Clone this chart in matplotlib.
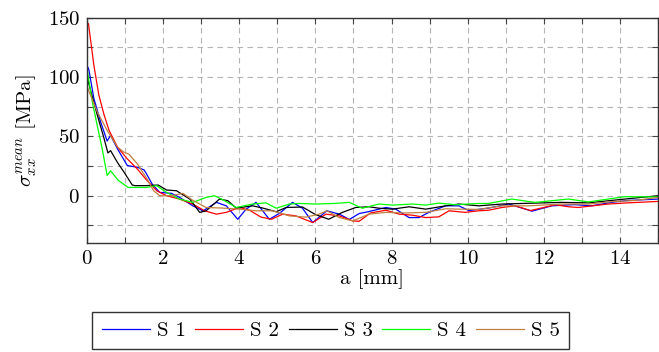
import matplotlib
matplotlib.use("Agg")
import matplotlib.pyplot as plt
from matplotlib.ticker import MultipleLocator

plt.rcParams['font.family'] = 'cmr10'
plt.rcParams['mathtext.fontset'] = 'cm'
plt.rcParams['axes.formatter.use_mathtext'] = True

# mean stress along the crack path, one curve per specimen
a_s1 = [0.0, 0.05, 0.18, 0.36, 0.53, 0.62, 0.8, 1.06, 1.32, 1.5, 1.56, 1.71, 1.91, 2.22, 2.43,
        2.78, 3.05, 3.4, 3.66, 3.96, 4.18, 4.44, 4.79, 5.05, 5.4, 5.66, 5.93, 6.3, 6.63, 6.89,
        7.15, 7.41, 7.85, 8.11, 8.46, 8.72, 8.98, 9.42, 9.77, 10.03, 10.55, 11.08, 11.69, 12.21,
        12.8, 13.25, 13.8, 14.2, 15.0]
s_s1 = [110, 106, 82, 62, 46, 50.8, 39.5, 25.4, 24, 21.7, 18.6, 9.9, 2.8, 2, -1.4,
        -8.5, -12.7, -5.6, -8.5, -19.8, -11.3, -5.6, -19.8, -15, -5.6, -10.5, -22.6, -12.7, -15.5, -20,
        -15, -13.3, -9.9, -11.3, -18.4, -18.4, -14, -8.5, -8.5, -12.5, -10.4, -7, -13, -8.5,
        -7.5, -8.5, -5.5, -4, -2.8]

a_s2 = [0.0, 0.04, 0.18, 0.31, 0.45, 0.58, 0.8, 1.06, 1.32, 1.58, 1.84, 2.09, 2.43, 2.78, 3.09,
        3.4, 3.66, 4.0, 4.27, 4.57, 4.85, 5.14, 5.49, 5.93, 6.28, 6.63, 6.98, 7.15, 7.45, 7.85,
        8.2, 8.55, 8.9, 9.24, 9.51, 9.94, 10.29, 10.55, 10.9, 11.25, 11.65, 12.3, 12.65, 12.9,
        13.69, 14.2, 15.0]
s_s2 = [146, 144.7, 110, 85, 68, 55, 41, 31, 22.6, 12.7, 4, 0, -2.8, -7, -12.7,
        -15.5, -14, -9.9, -12.2, -18, -19.8, -15.5, -17, -22.6, -15.5, -17, -21.2, -21.5, -14.5, -12.2,
        -15.5, -16.4, -18.4, -17.8, -12.7, -14, -12.7, -12.2, -9.9, -8.5, -12.5, -7.6, -9.3, -9.9,
        -7, -6, -4.8]

a_s3 = [0.0, 0.1, 0.27, 0.45, 0.55, 0.62, 0.8, 0.97, 1.19, 1.26, 1.56, 1.87, 2.09, 2.35, 2.7,
        2.96, 3.13, 3.48, 3.7, 3.92, 4.35, 4.62, 4.97, 5.23, 5.66, 6.01, 6.35, 6.71, 7.06, 7.41,
        7.67, 8.02, 8.46, 8.9, 9.42, 9.77, 10.29, 10.9, 11.77, 12.47, 13.17, 14.13, 15.0]
s_s3 = [100, 88, 68, 48, 36, 38, 28, 20, 9, 8.5, 8.5, 9, 4.8, 4.2, -2.8,
        -14, -12.7, -2.8, -4.2, -10.4, -8.5, -10.4, -13.5, -9.9, -9.5, -16, -19.8, -14, -9.9, -9.3,
        -10.5, -11.3, -9.3, -11.3, -8.5, -7, -8.5, -7, -6.2, -5.6, -6, -2.8, 0]

a_s4 = [0.0, 0.14, 0.27, 0.4, 0.53, 0.62, 0.82, 1.08, 1.56, 1.83, 2.09, 2.43, 2.78, 3.13, 3.35,
        3.57, 3.92, 4.35, 4.7, 4.97, 5.32, 5.58, 6.0, 6.5, 6.89, 7.23, 7.67, 8.02, 8.55, 8.9,
        9.24, 9.68, 10.29, 10.55, 11.16, 11.77, 12.65, 13.17, 13.69, 14.13, 15.0]
s_s4 = [107, 79, 59, 39.5, 17, 21, 13, 7, 7, 8.5, 2.8, -2.8, -5.6, -1.4, 0,
        -3.4, -9.9, -7, -6, -10.5, -7, -6.5, -7, -6.5, -5.6, -10.5, -7, -7.9, -7, -7.9,
        -6.2, -7.6, -6.5, -6.5, -2.8, -5.6, -2.8, -5.2, -2.8, -0.8, -1]

a_s5 = [0.0, 0.27, 0.53, 0.8, 0.97, 1.1, 1.32, 1.58, 1.75, 1.91, 2.22, 2.52, 2.78, 3.13, 3.57,
        4.0, 4.44, 4.88, 5.32, 5.75, 6.1, 6.3, 6.63, 6.98, 7.41, 7.85, 8.37, 8.9, 9.42, 9.77,
        10.29, 10.9, 11.6, 12.47, 13.17, 13.78, 14.4, 15.0]
s_s5 = [92, 70.6, 55, 41, 36.7, 35, 27, 14, 4.2, 0, 0, 2, -3.9, -9.9, -10.4,
        -11.3, -12.7, -12.7, -17, -18, -15.5, -12.7, -18.4, -21.2, -15.5, -14, -14.5, -14, -11, -11.3,
        -11.5, -8.5, -8.5, -7, -7, -5, -4, -1.4]

labels = ['S 1', 'S 2', 'S 3', 'S 4', 'S 5']
colors = ['#0000ff', '#ff0000', '#000000', '#00ff00', '#bf8040']

fig = plt.figure(figsize=(6.59, 3.52), dpi=100)
ax = fig.add_axes([0.132, 0.309, 0.8665, 0.641])

series = [(a_s1, s_s1), (a_s2, s_s2), (a_s3, s_s3), (a_s4, s_s4), (a_s5, s_s5)]
for (a, s), lab, c in zip(series, labels, colors):
    ax.plot(a, s, color=c, lw=0.9, label=lab)

ax.set_xlim(0, 15)
ax.set_ylim(-40, 150)
ax.xaxis.set_major_locator(MultipleLocator(2))
ax.xaxis.set_minor_locator(MultipleLocator(1))
ax.yaxis.set_major_locator(MultipleLocator(50))
ax.yaxis.set_minor_locator(MultipleLocator(25))
ax.grid(which='both', color='#b4b4b4', ls=(0, (5, 4)), lw=0.8)
ax.tick_params(which='both', direction='in', top=True, right=True, labelsize=15,
               color='#444444', width=0.8)
ax.tick_params(which='major', length=4, pad=5)
ax.tick_params(which='minor', length=4)
for sp in ax.spines.values():
    sp.set_color('#333333')
    sp.set_linewidth(1.0)

ax.set_xlabel('a [mm]', fontsize=15, labelpad=1)
ax.set_ylabel(r'$\sigma_{xx}^{mean}$ [MPa]', fontsize=15, labelpad=6)

leg = fig.legend(loc='upper center', bbox_to_anchor=(0.502, 0.1136), ncol=5,
                 fontsize=15, frameon=True, fancybox=False, edgecolor='black',
                 handlelength=2.3, handletextpad=0.35, columnspacing=0.45,
                 borderpad=0.45, borderaxespad=0)
leg.get_frame().set_linewidth(1.0)

fig.savefig('out.png', dpi=100)
